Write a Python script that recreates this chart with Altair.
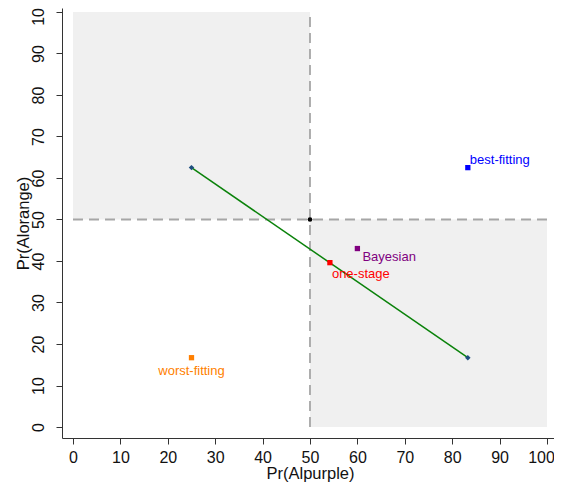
import altair as alt
import pandas as pd

# ---- data ----
tick_values = list(range(0, 101, 10))

# shaded quadrants
rect_x = [0, 50]
rect_x2 = [50, 100]
rect_y = [50, 0]
rect_y2 = [100, 50]

# dashed reference lines
vline_x = [50]
vline_y = [0]
vline_y2 = [100]
hline_y = [50]
hline_x = [0]
hline_x2 = [100]

# green segment between the two diamonds
seg_x = [25, 83.3]
seg_y = [62.5, 16.7]

# centre point
center_x = [50]
center_y = [50]

# labelled estimates
est_labels = ["best-fitting", "worst-fitting", "one-stage", "Bayesian"]
est_x = [83.3, 25.0, 54.2, 60.0]
est_y = [62.5, 16.7, 39.6, 43.0]
est_colors = ["#0000ff", "#ff7f00", "#ff0000", "#800080"]

FONT = "Liberation Sans"

xscale = alt.Scale(domain=[-2.32, 101.48], nice=False, zero=False)
yscale = alt.Scale(domain=[-2.65, 100.96], nice=False, zero=False)

xaxis = alt.Axis(values=tick_values, title="Pr(Alpurple)", grid=False,
                 tickSize=6, labelPadding=5, labelFontSize=16, titleFontSize=16.5,
                 titleY=40.5, titleX=248, titleBaseline="alphabetic", labelFlush=False,
                 labelOffset={"condition": {"test": "datum.value == 100", "value": -6}, "value": 0},
                 domainColor="#333333", tickColor="#333333", labelColor="#111111",
                 titleColor="#111111", titleFontWeight="normal",
                 labelFont=FONT, titleFont=FONT)
yaxis = alt.Axis(values=tick_values, title="Pr(Alorange)", grid=False,
                 tickSize=6, labelPadding=13, labelFontSize=16, titleFontSize=16.5,
                 labelAngle=-90, labelAlign="center", labelBaseline="alphabetic",
                 titleX=-39, titleBaseline="middle", labelFlush=False,
                 domainColor="#333333", tickColor="#333333", labelColor="#111111",
                 titleColor="#111111", titleFontWeight="normal",
                 labelFont=FONT, titleFont=FONT)


def X(f):
    return alt.X(f, type="quantitative", scale=xscale, axis=xaxis)


def Y(f):
    return alt.Y(f, type="quantitative", scale=yscale, axis=yaxis)


rect_df = pd.DataFrame({"x": rect_x, "x2": rect_x2, "y": rect_y, "y2": rect_y2})
rects = alt.Chart(rect_df).mark_rect(color="#f0f0f0").encode(
    x=X("x"), x2="x2", y=Y("y"), y2="y2")

vdf = pd.DataFrame({"x": vline_x, "y": vline_y, "y2": vline_y2})
vrule = alt.Chart(vdf).mark_rule(color="#a6a6a6", strokeWidth=1.8, strokeDash=[10, 6]).encode(
    x=X("x"), y=Y("y"), y2="y2")

hdf = pd.DataFrame({"y": hline_y, "x": hline_x, "x2": hline_x2})
hrule = alt.Chart(hdf).mark_rule(color="#a6a6a6", strokeWidth=1.8, strokeDash=[10, 6]).encode(
    y=Y("y"), x=X("x"), x2="x2")

seg_df = pd.DataFrame({"x": seg_x, "y": seg_y, "o": list(range(len(seg_x)))})
seg = alt.Chart(seg_df).mark_line(color="#0a820a", strokeWidth=1.5).encode(
    x=X("x"), y=Y("y"), order="o")
diamonds = alt.Chart(seg_df).mark_point(shape="diamond", filled=True, color="#1f4f7f",
                                        size=30, opacity=1).encode(x=X("x"), y=Y("y"))

cdf = pd.DataFrame({"x": center_x, "y": center_y})
center = alt.Chart(cdf).mark_circle(color="#000000", size=22, opacity=1).encode(
    x=X("x"), y=Y("y"))

est_df = pd.DataFrame({"label": est_labels, "x": est_x, "y": est_y, "c": est_colors})
squares = alt.Chart(est_df).mark_square(size=28, opacity=1).encode(
    x=X("x"), y=Y("y"), color=alt.Color("c:N", scale=None))

text_specs = {
    "best-fitting": dict(align="left", dx=2, dy=-8),
    "Bayesian": dict(align="left", dx=5, dy=8),
    "one-stage": dict(align="left", dx=2, dy=11),
    "worst-fitting": dict(align="center", dx=0, dy=13),
}
texts = []
for lab, col in zip(est_labels, est_colors):
    sub = est_df[est_df["label"] == lab]
    spec = text_specs[lab]
    texts.append(
        alt.Chart(sub).mark_text(font=FONT, fontSize=13, color=col, baseline="middle",
                                 align=spec["align"], dx=spec["dx"], dy=spec["dy"]).encode(
            x=X("x"), y=Y("y"), text="label:N")
    )

chart = alt.layer(rects, vrule, hrule, seg, diamonds, center, squares, *texts).properties(
    width=492, height=430,
    padding={"left": 54, "top": 0, "right": 0, "bottom": 44},
    autosize=alt.AutoSizeParams(type="none"),
).configure_view(stroke=None)

chart.save("out.html", embed_options={"renderer": "svg", "actions": False})
